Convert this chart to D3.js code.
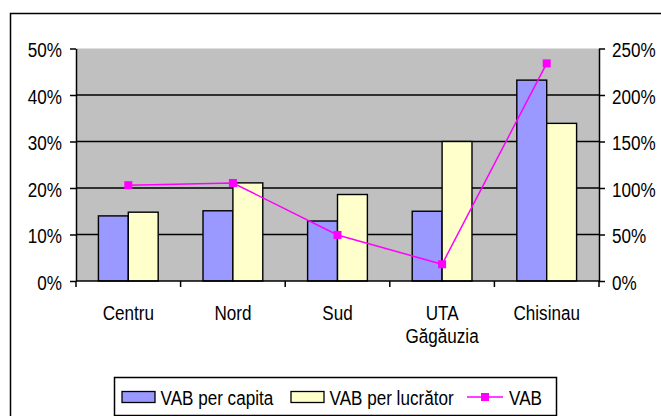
<!DOCTYPE html>
<html>
<head>
<meta charset="utf-8">
<script src="https://cdn.jsdelivr.net/npm/d3@7"></script>
<style>
  body { margin: 0; background: #fff; }
  svg text { font-family: "Liberation Sans", Arial, sans-serif; fill: #000; font-size: 19px; }
</style>
</head>
<body>
<div id="chart"></div>
<script>
// VAB regional comparison: bars on the left axis, VAB line on the right axis

var categories = ["Centru", "Nord", "Sud", "UTA Găgăuzia", "Chisinau"];
var vabPerCapita = [0.140, 0.151, 0.129, 0.150, 0.432];
var vabPerWorker = [0.148, 0.211, 0.186, 0.300, 0.339];
var vabTotal = [1.03, 1.054, 0.495, 0.18, 2.34];
var leftTicks = [0, 0.1, 0.2, 0.3, 0.4, 0.5];
var rightTicks = [0, 0.5, 1, 1.5, 2, 2.5];
var seriesNames = ["VAB per capita", "VAB per lucrător", "VAB"];

var width = 661, height = 416;
var plot = { left: 76, right: 599, top: 48.5, bottom: 281 };
var colors = { capita: "#9999ff", worker: "#ffffcc", line: "#ff00ff", plotBg: "#c0c0c0" };
var squeeze = [0.9, 1.08]; // the original lettering is narrow and tall

var svg = d3.select("#chart").append("svg")
    .attr("width", width)
    .attr("height", height);

// put a text at (px,py) and squeeze it around its anchor
function placeText(sel, px, py) {
    sel.attr("x", 0).attr("y", 0)
       .attr("transform", "translate(" + px + "," + py + ") scale(" + squeeze[0] + "," + squeeze[1] + ")");
}

// chart area border (runs off the right and bottom edges)
svg.append("rect")
    .attr("x", 10.5).attr("y", 13.5)
    .attr("width", 720).attr("height", 500)
    .attr("fill", "#fff")
    .attr("stroke", "#000")
    .attr("stroke-width", 1.5);

// scales
var x = d3.scaleBand()
    .domain(categories)
    .range([plot.left, plot.right])
    .paddingInner(0).paddingOuter(0);

var xSeries = d3.scaleBand()
    .domain(["capita", "worker"])
    .range([0, x.bandwidth()])
    .paddingInner(0).paddingOuter(0.75);

var yLeft = d3.scaleLinear().domain([0, 0.5]).range([plot.bottom, plot.top]);
var yRight = d3.scaleLinear().domain([0, 2.5]).range([plot.bottom, plot.top]);

// plot background
svg.append("rect")
    .attr("x", plot.left).attr("y", plot.top)
    .attr("width", plot.right - plot.left)
    .attr("height", plot.bottom - plot.top)
    .attr("fill", colors.plotBg);

// gridlines
svg.append("g").selectAll("line")
    .data(leftTicks.filter(function(d) { return d > 0 && d < 0.5; }))
    .enter().append("line")
    .attr("x1", plot.left).attr("x2", plot.right)
    .attr("y1", function(d) { return yLeft(d); })
    .attr("y2", function(d) { return yLeft(d); })
    .attr("stroke", "#000")
    .attr("stroke-width", 1.4);

// bars
var barData = [];
categories.forEach(function(c, i) {
    barData.push({ cat: c, key: "capita", value: vabPerCapita[i] });
    barData.push({ cat: c, key: "worker", value: vabPerWorker[i] });
});

svg.append("g").selectAll("rect")
    .data(barData)
    .enter().append("rect")
    .attr("x", function(d) { return x(d.cat) + xSeries(d.key); })
    .attr("y", function(d) { return yLeft(d.value); })
    .attr("width", xSeries.bandwidth())
    .attr("height", function(d) { return yLeft(0) - yLeft(d.value); })
    .attr("fill", function(d) { return colors[d.key]; })
    .attr("stroke", "#000")
    .attr("stroke-width", 1.4);

// axes
var leftAxis = svg.append("g")
    .attr("transform", "translate(" + plot.left + ",0)")
    .call(d3.axisLeft(yLeft).tickValues(leftTicks).tickFormat(d3.format(".0%"))
        .tickSize(6).tickSizeOuter(0));

var rightAxis = svg.append("g")
    .attr("transform", "translate(" + plot.right + ",0)")
    .call(d3.axisRight(yRight).tickValues(rightTicks).tickFormat(d3.format(".0%"))
        .tickSize(6).tickSizeOuter(0));

[leftAxis, rightAxis].forEach(function(ax) {
    ax.select(".domain").attr("stroke", "#000").attr("stroke-width", 1.5);
    ax.selectAll(".tick line").attr("stroke", "#000").attr("stroke-width", 1.5);
    ax.selectAll(".tick text").attr("fill", "#000").attr("font-size", null).attr("dy", null);
});
leftAxis.selectAll(".tick text").each(function() { placeText(d3.select(this), -14, 8); });
rightAxis.selectAll(".tick text").each(function() { placeText(d3.select(this), 13, 8); });

// category axis: line, ticks between categories, labels
var catAxis = svg.append("g");
catAxis.append("line")
    .attr("x1", plot.left).attr("x2", plot.right)
    .attr("y1", plot.bottom).attr("y2", plot.bottom)
    .attr("stroke", "#000").attr("stroke-width", 1.5);

var boundaries = categories.map(function(c) { return x(c); }).concat([x.range()[1]]);
catAxis.selectAll(".cat-tick")
    .data(boundaries)
    .enter().append("line")
    .attr("class", "cat-tick")
    .attr("x1", function(d) { return d; }).attr("x2", function(d) { return d; })
    .attr("y1", plot.bottom).attr("y2", plot.bottom + 6)
    .attr("stroke", "#000").attr("stroke-width", 1.5);

categories.forEach(function(c) {
    c.split(" ").forEach(function(word, i) {
        catAxis.append("text")
            .attr("text-anchor", "middle")
            .text(word)
            .call(placeText, x(c) + x.bandwidth() / 2, 320 + i * 23);
    });
});

// VAB line with square markers
var linePoints = categories.map(function(c, i) {
    return { cat: c, value: vabTotal[i] };
});

var line = d3.line()
    .x(function(d) { return x(d.cat) + x.bandwidth() / 2; })
    .y(function(d) { return yRight(d.value); });

svg.append("path")
    .datum(linePoints)
    .attr("d", line)
    .attr("fill", "none")
    .attr("stroke", colors.line)
    .attr("stroke-width", 1.5);

svg.append("g").selectAll("rect")
    .data(linePoints)
    .enter().append("rect")
    .attr("x", function(d) { return x(d.cat) + x.bandwidth() / 2 - 4; })
    .attr("y", function(d) { return yRight(d.value) - 4; })
    .attr("width", 8).attr("height", 8)
    .attr("fill", colors.line);

// legend
var legend = svg.append("g");
legend.append("rect")
    .attr("x", 114.5).attr("y", 377.5)
    .attr("width", 442).attr("height", 38)
    .attr("fill", "#fff")
    .attr("stroke", "#000")
    .attr("stroke-width", 1.5);

var legendItems = [
    { name: seriesNames[0], type: "bar", color: colors.capita, x: 122 },
    { name: seriesNames[1], type: "bar", color: colors.worker, x: 291 },
    { name: seriesNames[2], type: "line", color: colors.line, x: 467 }
];
var legendY = 397;

legendItems.forEach(function(item) {
    var g = legend.append("g").attr("transform", "translate(" + item.x + "," + legendY + ")");
    var textX;
    if (item.type === "bar") {
        g.append("rect")
            .attr("x", 0).attr("y", -5.5)
            .attr("width", 33).attr("height", 11)
            .attr("fill", item.color)
            .attr("stroke", "#000").attr("stroke-width", 1.3);
        textX = 38.5;
    } else {
        g.append("line")
            .attr("x1", 0).attr("x2", 36)
            .attr("y1", 0).attr("y2", 0)
            .attr("stroke", item.color).attr("stroke-width", 1.5);
        g.append("rect")
            .attr("x", 14).attr("y", -4)
            .attr("width", 8).attr("height", 8)
            .attr("fill", item.color);
        textX = 42;
    }
    g.append("text")
        .text(item.name)
        .call(placeText, textX, 7.5);
});
</script>
</body>
</html>
